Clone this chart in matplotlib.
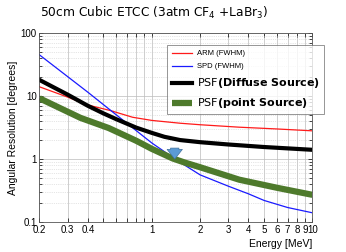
import numpy as np
import matplotlib
matplotlib.use("Agg")
import matplotlib.pyplot as plt
from matplotlib.ticker import FixedLocator, NullFormatter, FixedFormatter

# values (energy in MeV, resolution in degrees)
arm_e = [0.2, 0.3, 0.4, 0.55, 0.76, 1.0, 1.5, 2.0, 3.5, 6.0, 10.0]
arm_v = [14.0, 9.6, 7.2, 5.9, 4.6, 4.1, 3.7, 3.5, 3.2, 3.0, 2.8]

spd_e = [0.2, 0.4, 0.57, 1.0, 1.43, 2.0, 3.0, 4.0, 5.0, 7.0, 10.0]
spd_v = [45.0, 11.5, 5.6, 1.8, 0.96, 0.56, 0.37, 0.28, 0.22, 0.17, 0.14]

diff_e = [0.2, 0.3, 0.4, 0.5, 0.6, 0.8, 1.0, 1.2, 1.5, 2.0, 3.0, 5.0, 10.0]
diff_v = [18.0, 10.5, 7.0, 5.3, 4.3, 3.15, 2.6, 2.25, 2.0, 1.85, 1.7, 1.55, 1.4]

point_e = [0.2, 0.36, 0.54, 0.8, 1.0, 1.35, 1.6, 2.0, 3.5, 6.0, 10.0]
point_v = [9.2, 4.5, 3.1, 1.95, 1.45, 1.02, 0.88, 0.74, 0.47, 0.35, 0.27]

xticks = [0.2, 0.3, 0.4, 0.5, 0.6, 0.7, 0.8, 0.9, 1, 2, 3, 4, 5, 6, 7, 8, 9, 10]
xlabels = ["0.2", "0.3", "0.4", "", "", "", "", "", "1", "2", "3", "4", "5", "6", "7", "8", "9", "10"]
yticks = [0.1, 1, 10, 100]
ylabels = ["0.1", "1", "10", "100"]

arrow_e = 1.39
arrow_top = 1.65
arrow_tip = 0.9

plt.rcParams['font.family'] = ['Liberation Sans', 'DejaVu Sans']

fig = plt.figure(figsize=(3.46, 2.52), dpi=100)
ax = fig.add_axes([0.114, 0.119, 0.789, 0.750])

ax.plot(arm_e, arm_v, color="#ff1a1a", lw=0.9, label="ARM (FWHM)")
ax.plot(spd_e, spd_v, color="#1a1aff", lw=0.9, label="SPD (FWHM)")
ax.plot(diff_e, diff_v, color="black", lw=3.0, label=r"PSF$\bf{(Diffuse\ Source)}$")
ax.plot(point_e, point_v, color="#4e7a2c", lw=4.5, label=r"PSF$\bf{(point\ Source)}$",
        solid_capstyle="butt")

ax.annotate("", xy=(arrow_e, arrow_tip), xytext=(arrow_e, arrow_top),
            arrowprops=dict(arrowstyle="simple,head_width=1.1,head_length=0.7,tail_width=0.6",
                            fc="#5b9bd5", ec="#41719c", lw=0.5))

ax.set_xscale("log")
ax.set_yscale("log")
ax.set_xlim(0.2, 10)
ax.set_ylim(0.1, 100)

ax.xaxis.set_major_locator(FixedLocator(xticks))
ax.xaxis.set_major_formatter(FixedFormatter(xlabels))
ax.xaxis.set_minor_formatter(NullFormatter())
ax.xaxis.set_minor_locator(FixedLocator([]))
ax.yaxis.set_major_locator(FixedLocator(yticks))
ax.yaxis.set_major_formatter(FixedFormatter(ylabels))
ax.tick_params(which="both", direction="in", top=True, right=True, labelsize=7, pad=2)
ax.tick_params(which="major", length=3, width=0.5)
ax.tick_params(which="minor", length=2, width=0.5)

ax.grid(True, which="major", color="#bbbbbb", lw=0.5, ls="-")
ax.grid(True, which="minor", axis="y", color="#cccccc", lw=0.5, ls=":")
for s in ax.spines.values():
    s.set_linewidth(0.6)
    s.set_color("#555555")

ax.set_xlabel("Energy [MeV]", fontsize=7.5, labelpad=1)
ax.xaxis.set_label_coords(1.0, -0.09)
ax.xaxis.label.set_horizontalalignment("right")
ax.set_ylabel("Angular Resolution [degrees]", fontsize=7.5, labelpad=2)

fig.text(0.116, 0.95, "50cm Cubic ETCC (3atm CF$_4$ +LaBr$_3$)", fontsize=8.8,
         family="DejaVu Sans", ha="left", va="center")

leg = ax.legend(loc="upper left", bbox_to_anchor=(0.455, 0.955), fontsize=5.5,
                frameon=True, fancybox=False, edgecolor="#666666",
                handlelength=2.6, borderpad=0.6, labelspacing=0.75, handletextpad=0.6)
leg.get_frame().set_linewidth(0.6)
for i, t in enumerate(leg.get_texts()):
    if i >= 2:
        t.set_fontsize(8)
        t.set_family("DejaVu Sans")

fig.savefig("out.png", dpi=100)
